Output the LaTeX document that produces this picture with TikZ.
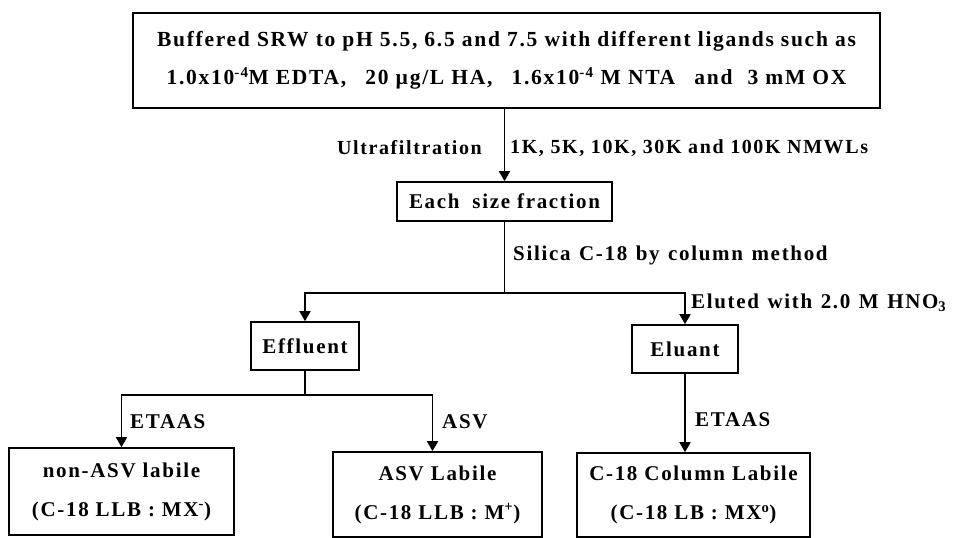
\documentclass[tikz,border=0pt]{standalone}
\usepackage{fontspec}
\setmainfont{Liberation Serif}[LetterSpace=8]
\usepackage{tikz}
\usetikzlibrary{arrows.meta,calc,positioning}
\newcommand\widesp{\spaceskip 8.5pt\relax}

\begin{document}
\begin{tikzpicture}[x=1pt,y=-1pt,
    box/.style={
      draw=black, line width=1.6pt,
      inner sep=0pt, align=center,
      font=\bfseries\fontsize{21}{38}\selectfont
    },
    boxtwo/.style={box, font=\bfseries\fontsize{21}{39}\selectfont},
    conn/.style={line width=1.6pt, draw=black},
    arr/.style={-{Triangle[length=10pt,width=11pt]}, line width=1.6pt, draw=black},
    lbl/.style={inner sep=0pt, font=\bfseries\fontsize{21}{24}\selectfont},
    lblsmall/.style={lbl, font=\bfseries\fontsize{20}{24}\selectfont},
    lblwide/.style={lbl, font=\bfseries\fontsize{21}{24}\selectfont\widesp}
  ]

  \useasboundingbox (0,0) rectangle (956,538);

  % Nodes
  \node[box, font=\bfseries\fontsize{21.5}{38}\selectfont,
        minimum width=747pt, minimum height=95pt] (src) at (506.5,60.5)
    {Buffered SRW to pH 5.5, 6.5 and 7.5 with different ligands such as\\
     1.0x10\textsuperscript{-4}M EDTA,\hspace{12pt} 20 µg/L HA,\hspace{12pt} 1.6x10\textsuperscript{-4} M NTA\hspace{12pt} and\hspace{8pt} 3 mM OX};

  \node[box, minimum width=215pt, minimum height=39pt] (frac) at (504.5,201.5) {Each\hspace{6pt} size fraction};

  \node[box, minimum width=108pt, minimum height=48pt] (eff) at (305,346) {Effluent};
  \node[box, minimum width=106pt, minimum height=48pt] (elu) at (685,349) {Eluant};

  \node[boxtwo, minimum width=225pt, minimum height=87pt] (nasv) at (121.5,491.5)
    {non-ASV labile\\(C-18 LLB : MX\textsuperscript{-})};
  \node[boxtwo, minimum width=209pt, minimum height=85pt] (asv) at (437.5,494.5)
    {ASV Labile\\(C-18 LLB : M\textsuperscript{+})};
  \node[boxtwo, minimum width=233pt, minimum height=84pt] (col) at (693.5,495)
    {C-18 Column Labile\\(C-18 LB : MX\textsuperscript{o})};

  % Step labels
  \node[lblsmall, anchor=east] (ufl) at (482,148) {Ultrafiltration};
  \node[lblsmall, anchor=west] (nmwl) at (510,148) {1K, 5K, 10K, 30K and 100K NMWLs};
  \node[lblwide, anchor=west] (sil) at (513,255) {Silica C-18 by column method};
  \node[lblwide, anchor=west] (elw) at (691,303) {Eluted with 2.0 M HNO\textsubscript{3}};
  \node[lbl, anchor=west] (et1) at (130,422) {ETAAS};
  \node[lbl, anchor=west] (asvl) at (442,422) {ASV};
  \node[lbl, anchor=west] (et2) at (695,420) {ETAAS};

  % Ultrafiltration arrow
  \draw[arr] (frac.north |- src.south) -- (frac.north);

  % Split after the C-18 column
  \coordinate (S1) at ($(frac.south)+(0,71)$);   % junction under the fraction box
  \draw[conn] (frac.south) -- (S1);
  \draw[arr]  (S1) -| (eff.north);
  \draw[arr]  (S1) -| (elu.north);

  % Split of the effluent
  \coordinate (S2) at ($(eff.south)+(0,24)$);
  \draw[conn] (eff.south) -- (S2);
  \draw[arr]  (S2) -| (nasv.north);
  \draw[arr]  (S2) -| ($(asv.north)+(-5,0)$);

  % Eluant to column labile
  \draw[arr] (elu.south) -- (elu.south |- col.north);

\end{tikzpicture}
\end{document}
